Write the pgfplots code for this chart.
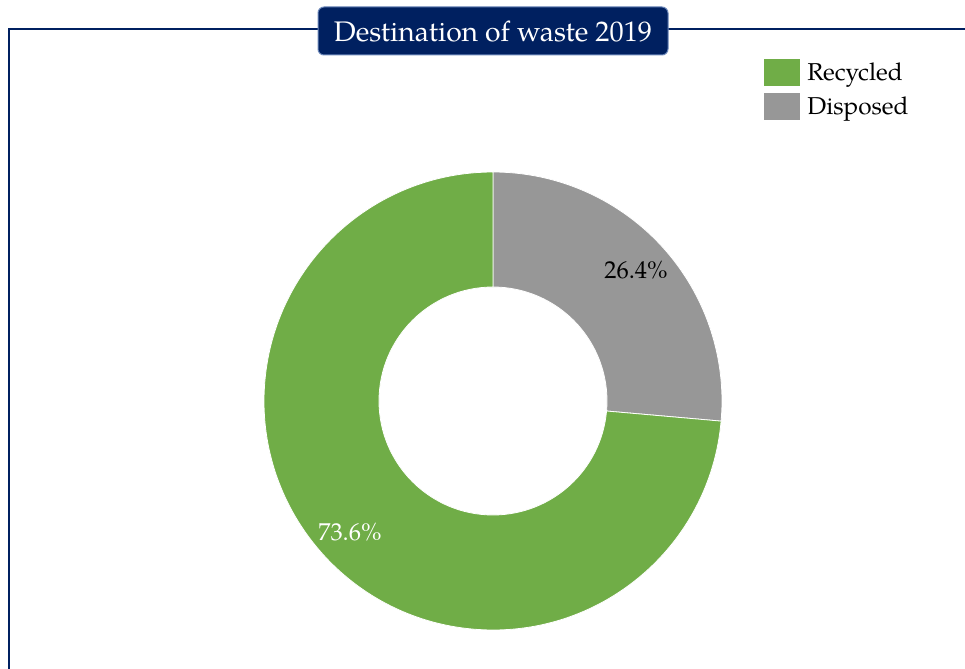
\documentclass[border=0pt]{standalone}
\usepackage{fontspec}
\setmainfont{TeX Gyre Pagella}
\usepackage{pgfplots}
\usepackage{pgfplotstable}
\pgfplotsset{compat=1.18}

\definecolor{recgreen}{HTML}{70AD47}
\definecolor{dispgray}{HTML}{979797}
\definecolor{navy}{HTML}{002060}
\definecolor{navyedge}{HTML}{6A86B8}

% share of waste, per cent
\pgfplotstableread{
label    value
Recycled 73.6
Disposed 26.4
}\wastedata

\begin{document}
\begin{tikzpicture}
\useasboundingbox (0,0) rectangle (965bp,669bp);
\pgfplotstablegetelem{0}{value}\of\wastedata \edef\vrec{\pgfplotsretval}
\pgfplotstablegetelem{1}{value}\of\wastedata \edef\vdis{\pgfplotsretval}
% disposed runs clockwise from 12 o'clock, recycled follows
\pgfmathsetmacro\aA{90}
\pgfmathsetmacro\aB{90-3.6*\vdis}
\pgfmathsetmacro\aC{\aB-3.6*\vrec}
\pgfmathsetmacro\mD{90-1.8*\vdis}
\pgfmathsetmacro\mR{\aB-1.8*\vrec}
\begin{axis}[
    x=1bp, y=1bp,
    xmin=0, xmax=965, ymin=0, ymax=669,
    hide axis,
    clip=false,
    legend style={at={(axis cs:764,610)}, anchor=north west,
        draw=none, fill=none, inner sep=0pt, outer sep=0pt,
        font=\fontsize{24.5}{24.5}\selectfont,
        row sep=8bp, column sep=8bp,
        nodes={inner sep=0pt, outer sep=0pt, anchor=base west}},
    legend image code/.code={\fill[#1] (0bp,-5bp) rectangle (35bp,21bp);},
]
\coordinate (C) at (axis cs:493,268);

% donut slices
\fill[dispgray, draw=white, line width=0.8bp]
    ([shift={(\aA:229bp)}]C) arc[start angle=\aA, end angle=\aB, radius=229bp]
    -- ([shift={(\aB:114bp)}]C) arc[start angle=\aB, end angle=\aA, radius=114bp] -- cycle;
\fill[recgreen, draw=white, line width=0.8bp]
    ([shift={(\aB:229bp)}]C) arc[start angle=\aB, end angle=\aC, radius=229bp]
    -- ([shift={(\aC:114bp)}]C) arc[start angle=\aC, end angle=\aB, radius=114bp] -- cycle;

\node[font=\fontsize{24.5}{24.5}\selectfont, text=black]
    at ([shift={(\mD:194bp)}]C) {\vdis\%};
\node[font=\fontsize{24.5}{24.5}\selectfont, text=white]
    at ([shift={(\mR:194bp)}]C) {\vrec\%};

\addlegendimage{recgreen}
\addlegendentry{Recycled}
\addlegendimage{dispgray}
\addlegendentry{Disposed}

% frame and title box
\draw[navy, line width=2bp] (axis cs:9,-20) -- (axis cs:9,639.5) -- (axis cs:990,639.5);
\draw[navyedge, line width=1bp, fill=navy, rounded corners=6bp]
    (axis cs:318,614) rectangle (axis cs:668,662);
\node[text=white, font=\fontsize{28.4}{28.4}\selectfont] at (axis cs:493,638) {Destination of waste 2019};
\end{axis}
\end{tikzpicture}
\end{document}
